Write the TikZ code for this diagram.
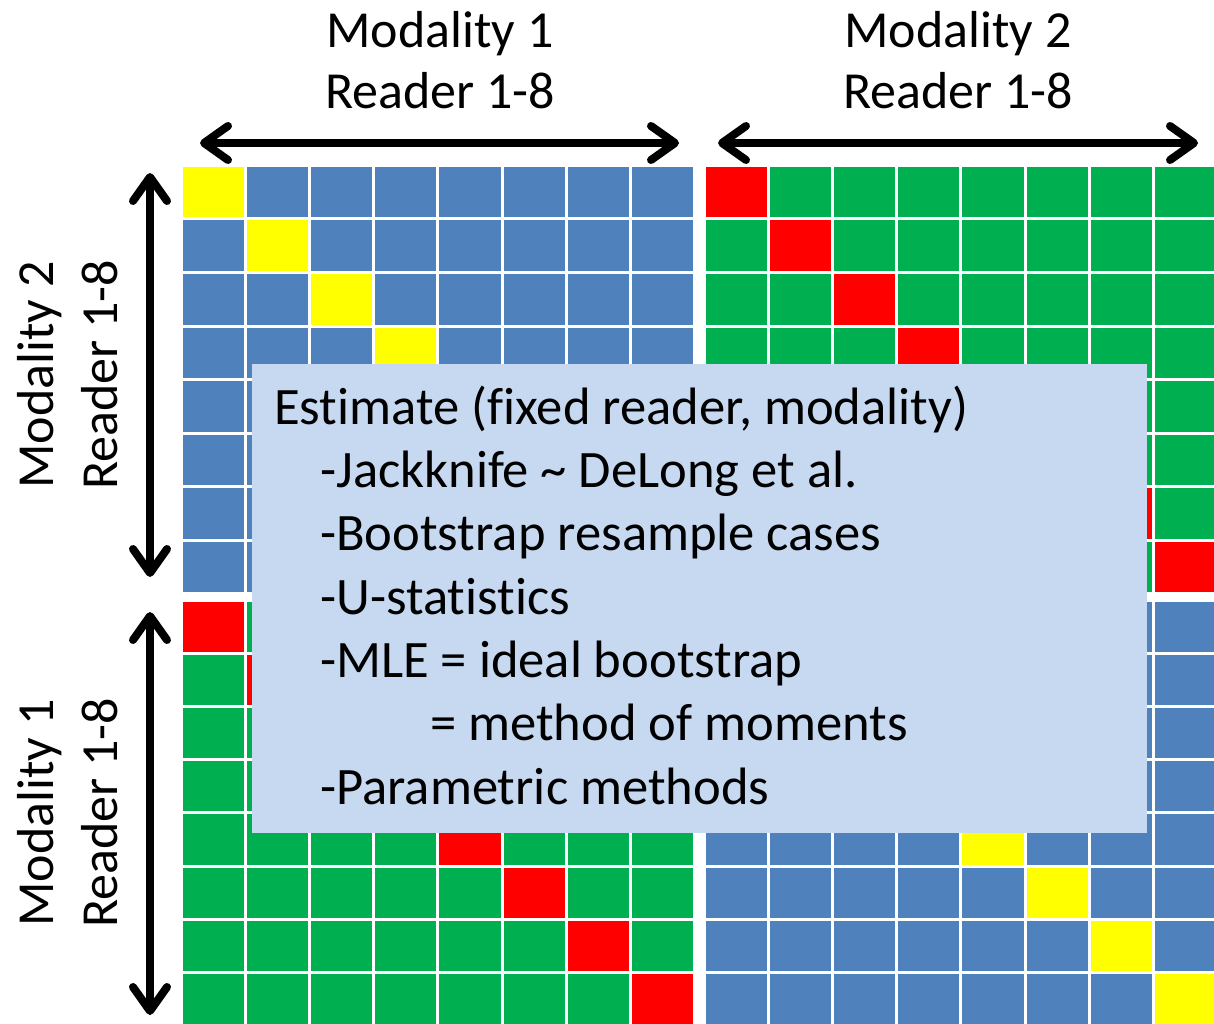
\documentclass[tikz,border=0pt]{standalone}
\usepackage{fontspec}
\setmainfont[Ligatures={NoCommon}]{Carlito}
\usetikzlibrary{arrows.meta}
\definecolor{cellblue}{HTML}{4F81BD}
\definecolor{cellgreen}{HTML}{00B050}
\definecolor{cellred}{HTML}{FF0000}
\definecolor{cellyellow}{HTML}{FFFF00}
\definecolor{boxblue}{HTML}{C6D9F1}
\begin{document}
\begin{tikzpicture}[x=1pt,y=-1pt,
  lbl/.style={inner sep=0pt, font=\fontsize{52}{62}\selectfont},
  boxtxt/.style={inner sep=0pt, anchor=base west, font=\fontsize{52.6}{63}\selectfont},
  bigarrow/.style={line width=8pt,
    {Straight Barb[length=24pt,width=34pt,round]}-{Straight Barb[length=24pt,width=34pt,round]}},
]
\useasboundingbox (0,0) rectangle (1214,1024);
\fill[white] (0,0) rectangle (1214,1024);

% four 8x8 reader grids, diagonal cells highlighted
\begin{scope}
\clip (0,0) rectangle (1214,1024);
\foreach \qx/\qy/\py/\base/\diag in {183/167/53.5/cellblue/cellyellow,
                                     706/167/53.5/cellgreen/cellred,
                                     183/601.5/53.2/cellgreen/cellred,
                                     706/601.5/53.2/cellblue/cellyellow}{
  \foreach \i in {0,...,7}{
    \foreach \j in {0,...,7}{
      \ifnum\i=\j \edef\cellc{\diag}\else\edef\cellc{\base}\fi
      \fill[fill=\cellc] (\qx+\i*64.1, \qy+\j*\py) rectangle ++(61.1, \py-3);
    }
  }
}
\end{scope}

% column headers
\node[lbl, anchor=base] (mA) at (440,47.5) {Modality 1};
\node[lbl, anchor=base] (rA) at (440,109) {Reader 1-8};
\node[lbl, anchor=base] (mB) at (958,47.5) {Modality 2};
\node[lbl, anchor=base] (rB) at (958,109) {Reader 1-8};

% row headers
\node[lbl, anchor=base, rotate=90] (mC) at (53,375) {Modality 2};
\node[lbl, anchor=base, rotate=90] (rC) at (117,375) {Reader 1-8};
\node[lbl, anchor=base, rotate=90] (mD) at (53,813) {Modality 1};
\node[lbl, anchor=base, rotate=90] (rD) at (117,813) {Reader 1-8};

% span arrows
\coordinate (hA1) at (200,143);
\coordinate (hA2) at (679,143);
\coordinate (hB1) at (718,143);
\coordinate (hB2) at (1198,143);
\coordinate (vA1) at (150,173);
\coordinate (vA2) at (150,577);
\coordinate (vB1) at (150,612);
\coordinate (vB2) at (150,1015);
\draw[bigarrow] (hA1) -- (hA2);
\draw[bigarrow] (hB1) -- (hB2);
\draw[bigarrow] (vA1) -- (vA2);
\draw[bigarrow] (vB1) -- (vB2);

% overlay box with estimation methods
\fill[boxblue] (252,364) rectangle (1147,833);
\node[boxtxt] (t1) at (274,424) {Estimate (fixed reader, modality)};
\node[boxtxt] (t2) at (320,487.3) {-Jackknife \textasciitilde{} DeLong et al.};
\node[boxtxt] (t3) at (320,550.7) {-Bootstrap resample cases};
\node[boxtxt] (t4) at (320,614) {-U-statistics};
\node[boxtxt] (t5) at (320,677.3) {-MLE = ideal bootstrap};
\node[boxtxt] (t6) at (430,740.7) {= method of moments};
\node[boxtxt] (t7) at (320,804) {-Parametric methods};
\end{tikzpicture}
\end{document}
